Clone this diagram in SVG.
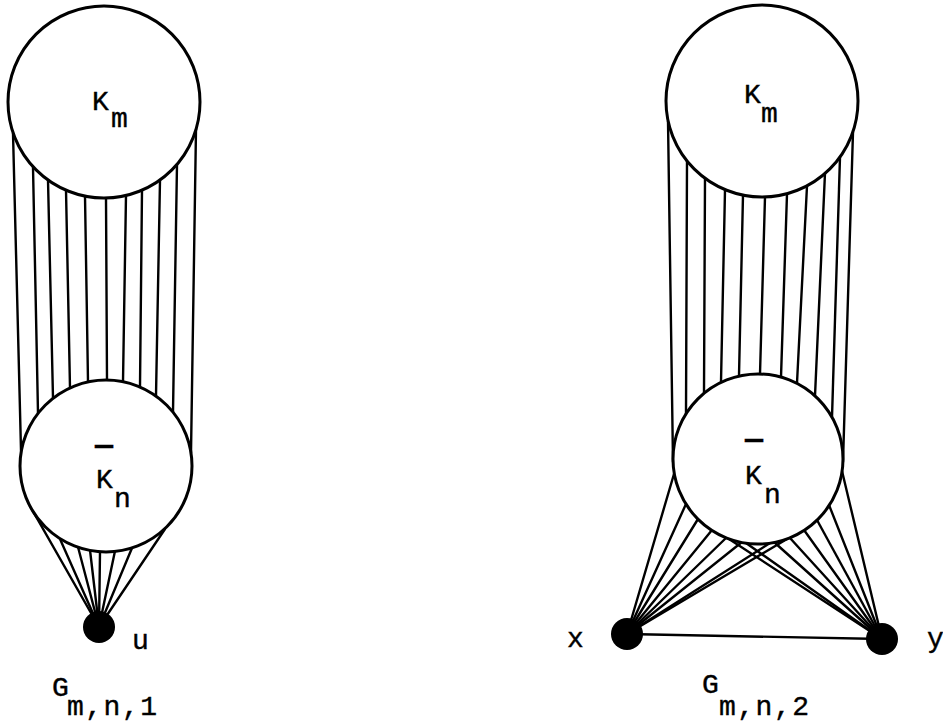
<svg xmlns="http://www.w3.org/2000/svg" width="943" height="724" viewBox="0 0 943 724">
<style>
.c{fill:#fff;stroke:#000;stroke-width:3}
.v{fill:#000}
.e line{stroke:#000;stroke-width:2.4;stroke-linecap:round}
.t{font-family:"Liberation Mono","DejaVu Sans Mono",monospace;font-size:28px;fill:#000;stroke:#000;stroke-width:0.4}
.s{letter-spacing:1.5px}
.b{font-weight:bold;font-size:30px}
</style>
<rect width="943" height="724" fill="#fff"/>
<g id="connectors" class="e">
<!-- left: Km to Kn -->
<line x1="13" y1="133" x2="21" y2="450"/>
<line x1="33" y1="167" x2="38" y2="413"/>
<line x1="48" y1="180" x2="53" y2="398"/>
<line x1="66" y1="190" x2="70" y2="388"/>
<line x1="85" y1="196" x2="88" y2="382"/>
<line x1="106" y1="198" x2="107" y2="380"/>
<line x1="126" y1="195" x2="123" y2="382"/>
<line x1="142" y1="190" x2="140" y2="387"/>
<line x1="160" y1="180" x2="156" y2="396"/>
<line x1="177" y1="164" x2="173" y2="412"/>
<line x1="196" y1="129" x2="191" y2="453"/>
<!-- left: Kn to u -->
<line x1="30" y1="506" x2="99" y2="627"/>
<line x1="60" y1="539" x2="99" y2="627"/>
<line x1="78" y1="547" x2="99" y2="627"/>
<line x1="90" y1="550" x2="99" y2="627"/>
<line x1="100" y1="552" x2="99" y2="627"/>
<line x1="115" y1="551" x2="99" y2="627"/>
<line x1="132" y1="548" x2="99" y2="627"/>
<line x1="165" y1="529" x2="99" y2="627"/>
<!-- right: Km to Kn -->
<line x1="668" y1="121" x2="673" y2="462"/>
<line x1="687" y1="161" x2="686" y2="414"/>
<line x1="705" y1="178" x2="704" y2="393"/>
<line x1="725" y1="190" x2="721" y2="382"/>
<line x1="743" y1="195" x2="739" y2="376"/>
<line x1="765" y1="197" x2="760" y2="374"/>
<line x1="787" y1="194" x2="781" y2="377"/>
<line x1="807" y1="186" x2="797" y2="383"/>
<line x1="825" y1="173" x2="815" y2="396"/>
<line x1="840" y1="157" x2="832" y2="417"/>
<line x1="853" y1="132" x2="843" y2="462"/>
<!-- right: Kn to x -->
<line x1="674" y1="474" x2="627" y2="634"/>
<line x1="686" y1="504" x2="627" y2="634"/>
<line x1="698" y1="519" x2="627" y2="634"/>
<line x1="712" y1="530" x2="627" y2="634"/>
<line x1="726" y1="538" x2="627" y2="634"/>
<line x1="742" y1="542" x2="627" y2="634"/>
<line x1="770" y1="543" x2="627" y2="634"/>
<line x1="787" y1="539" x2="627" y2="634"/>
<!-- right: Kn to y -->
<line x1="842" y1="471" x2="882" y2="639"/>
<line x1="829" y1="505" x2="882" y2="639"/>
<line x1="817" y1="520" x2="882" y2="639"/>
<line x1="804" y1="530" x2="882" y2="639"/>
<line x1="790" y1="538" x2="882" y2="639"/>
<line x1="774" y1="542" x2="882" y2="639"/>
<line x1="746" y1="543" x2="882" y2="639"/>
<line x1="729" y1="539" x2="882" y2="639"/>
<!-- x to y -->
<line x1="627" y1="634" x2="882" y2="639"/>
</g>
<g id="left-Km">
<circle class="c" cx="104" cy="102" r="96"/>
<text class="t" x="92" y="110">K</text>
<text class="t" x="111" y="127">m</text>
</g>
<g id="left-Kn">
<circle class="c" cx="106" cy="466" r="86"/>
<text class="t b" x="95" y="454">—</text>
<text class="t" x="96" y="488">K</text>
<text class="t" x="114" y="507">n</text>
</g>
<g id="node-u">
<circle class="v" cx="99" cy="627" r="16"/>
<text class="t" x="132" y="649">u</text>
</g>
<g id="right-Km">
<circle class="c" cx="762" cy="101" r="96"/>
<text class="t" x="744" y="103">K</text>
<text class="t" x="761" y="122">m</text>
</g>
<g id="right-Kn">
<circle class="c" cx="758" cy="459" r="85"/>
<text class="t b" x="745" y="448">—</text>
<text class="t" x="745" y="484">K</text>
<text class="t" x="764" y="503">n</text>
</g>
<g id="node-x">
<circle class="v" cx="627" cy="634" r="16"/>
<text class="t" x="567" y="647">x</text>
</g>
<g id="node-y">
<circle class="v" cx="882" cy="639" r="16"/>
<text class="t" x="927" y="647">y</text>
</g>
<g id="caption-1">
<text class="t" x="52" y="696">G</text>
<text class="t s" x="67" y="715">m,n,1</text>
</g>
<g id="caption-2">
<text class="t" x="702" y="693">G</text>
<text class="t s" x="719" y="715">m,n,2</text>
</g>
</svg>
